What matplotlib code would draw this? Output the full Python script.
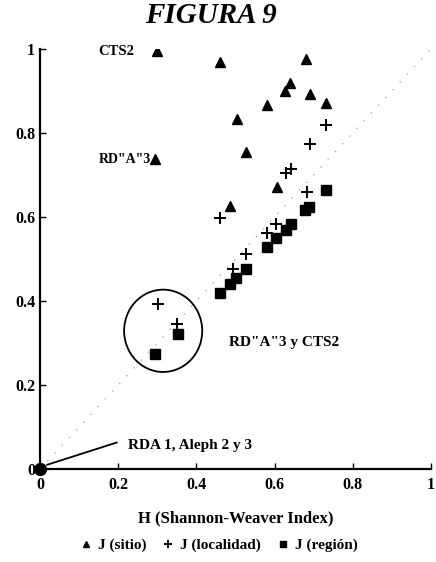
import matplotlib
matplotlib.use("Agg")
from matplotlib import pyplot as plt
from matplotlib.patches import Ellipse

plt.rcParams['font.family'] = ['Liberation Serif', 'DejaVu Serif']
plt.rcParams['font.weight'] = 'bold'
plt.rcParams['axes.labelweight'] = 'bold'

# J (sitio)
sitio_x = [0.30, 0.295, 0.46, 0.487, 0.503, 0.526, 0.581, 0.606, 0.628, 0.64, 0.68, 0.692, 0.732]
sitio_y = [0.995, 0.738, 0.968, 0.627, 0.834, 0.754, 0.866, 0.672, 0.90, 0.92, 0.976, 0.892, 0.872]

# J (localidad)
loc_x = [0.301, 0.35, 0.46, 0.494, 0.526, 0.580, 0.603, 0.629, 0.641, 0.682, 0.692, 0.732]
loc_y = [0.394, 0.345, 0.598, 0.476, 0.511, 0.563, 0.584, 0.704, 0.714, 0.660, 0.773, 0.819]

# J (region)
reg_x = [0.295, 0.352, 0.46, 0.487, 0.502, 0.527, 0.581, 0.605, 0.629, 0.641, 0.677, 0.688, 0.732]
reg_y = [0.274, 0.321, 0.418, 0.44, 0.454, 0.476, 0.528, 0.549, 0.569, 0.583, 0.617, 0.623, 0.664]

ticks = [0, 0.2, 0.4, 0.6, 0.8, 1]
tick_labels = ['0', '0.2', '0.4', '0.6', '0.8', '1']

fig = plt.figure(figsize=(4.36, 5.62), dpi=100)
ax = fig.add_axes([0.092, 0.1655, 0.896, 0.7473])

ax.plot([0, 1], [0, 1], color='#aaaaaa', lw=0.8, ls=(0, (1.5, 8)), zorder=1)
ax.plot([0], [0], 'o', color='black', ms=8.5, clip_on=False, zorder=5)

ax.plot(sitio_x, sitio_y, '^', color='black', ms=6.5, ls='none', label='J (sitio)')
ax.plot(loc_x, loc_y, '+', color='black', ms=9, mew=1.4, ls='none', label='J (localidad)')
ax.plot(reg_x, reg_y, 's', color='black', ms=7, ls='none', label='J (región)')

ax.add_patch(Ellipse((0.315, 0.329), 0.2, 0.196, fill=False, lw=1.3, color='black'))
ax.plot([0.018, 0.196], [0.01, 0.063], color='black', lw=1.3)

ax.text(0.148, 0.995, 'CTS2', fontsize=10.5, va='center', ha='left')
ax.text(0.150, 0.738, 'RD"A"3', fontsize=10, va='center', ha='left')
ax.text(0.483, 0.30, 'RD"A"3 y CTS2', fontsize=11, va='center', ha='left')
ax.text(0.225, 0.055, 'RDA 1, Aleph 2 y 3', fontsize=11, va='center', ha='left')

ax.set_xlim(0, 1)
ax.set_ylim(0, 1)
ax.set_xticks(ticks)
ax.set_xticklabels(tick_labels)
ax.set_yticks(ticks)
ax.set_yticklabels(tick_labels)
ax.tick_params(direction='in', length=4, width=1, labelsize=11.5)
ax.tick_params(axis='x', pad=6)
for s in ['top', 'right']:
    ax.spines[s].set_visible(False)
ax.spines['left'].set_linewidth(1.6)
ax.spines['bottom'].set_linewidth(1.6)

ax.set_xlabel('H (Shannon-Weaver Index)', fontsize=12, labelpad=12)
fig.text(0.484, 0.972, 'FIGURA 9', fontsize=21, style='italic', ha='center', va='center')

fig.legend(loc='center', bbox_to_anchor=(0.5, 0.03), ncol=3, frameon=False,
           fontsize=11, handlelength=1.0, handletextpad=0.3, columnspacing=0.9,
           markerscale=0.7)

fig.savefig('out.png', dpi=100)
